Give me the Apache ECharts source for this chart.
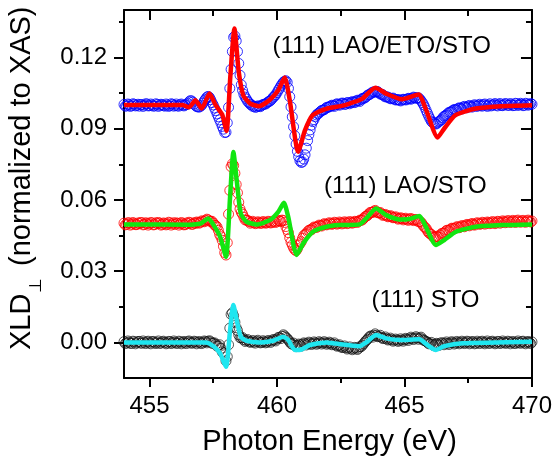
<!DOCTYPE html>
<html><head><meta charset="utf-8">
<script src="https://cdn.jsdelivr.net/npm/echarts@6/dist/echarts.min.js"></script>
<style>html,body{margin:0;padding:0;background:#fff}#c{width:555px;height:462px}</style>
</head><body><div id="c"></div>
<script>
// Photon energies of the measured points (eV): main grid and the interleaved half-step grid
const energies = [
454.0,454.1,454.2,454.3,454.4,454.5,454.6,454.7,454.8,454.9,
455.0,455.1,455.2,455.3,455.4,455.5,455.6,455.7,455.8,455.9,
456.0,456.1,456.2,456.3,456.4,456.5,456.6,456.7,456.8,456.9,
457.0,457.1,457.2,457.3,457.4,457.5,457.6,457.7,457.8,457.9,
458.0,458.1,458.2,458.3,458.4,458.5,458.6,458.7,458.8,458.9,
459.0,459.1,459.2,459.3,459.4,459.5,459.6,459.7,459.8,459.9,
460.0,460.1,460.2,460.3,460.4,460.5,460.6,460.7,460.8,460.9,
461.0,461.1,461.2,461.3,461.4,461.5,461.6,461.7,461.8,461.9,
462.0,462.1,462.2,462.3,462.4,462.5,462.6,462.7,462.8,462.9,
463.0,463.1,463.2,463.3,463.4,463.5,463.6,463.7,463.8,463.9,
464.0,464.1,464.2,464.3,464.4,464.5,464.6,464.7,464.8,464.9,
465.0,465.1,465.2,465.3,465.4,465.5,465.6,465.7,465.8,465.9,
466.0,466.1,466.2,466.3,466.4,466.5,466.6,466.7,466.8,466.9,
467.0,467.1,467.2,467.3,467.4,467.5,467.6,467.7,467.8,467.9,
468.0,468.1,468.2,468.3,468.4,468.5,468.6,468.7,468.8,468.9,
469.0,469.1,469.2,469.3,469.4,469.5,469.6,469.7,469.8,469.9,
470.0];
const energiesB = [
454.05,454.15,454.25,454.35,454.45,454.55,454.65,454.75,454.85,454.95,
455.05,455.15,455.25,455.35,455.45,455.55,455.65,455.75,455.85,455.95,
456.05,456.15,456.25,456.35,456.45,456.55,456.65,456.75,456.85,456.95,
457.05,457.15,457.25,457.35,457.45,457.55,457.65,457.75,457.85,457.95,
458.05,458.15,458.25,458.35,458.45,458.55,458.65,458.75,458.85,458.95,
459.05,459.15,459.25,459.35,459.45,459.55,459.65,459.75,459.85,459.95,
460.05,460.15,460.25,460.35,460.45,460.55,460.65,460.75,460.85,460.95,
461.05,461.15,461.25,461.35,461.45,461.55,461.65,461.75,461.85,461.95,
462.05,462.15,462.25,462.35,462.45,462.55,462.65,462.75,462.85,462.95,
463.05,463.15,463.25,463.35,463.45,463.55,463.65,463.75,463.85,463.95,
464.05,464.15,464.25,464.35,464.45,464.55,464.65,464.75,464.85,464.95,
465.05,465.15,465.25,465.35,465.45,465.55,465.65,465.75,465.85,465.95,
466.05,466.15,466.25,466.35,466.45,466.55,466.65,466.75,466.85,466.95,
467.05,467.15,467.25,467.35,467.45,467.55,467.65,467.75,467.85,467.95,
468.05,468.15,468.25,468.35,468.45,468.55,468.65,468.75,468.85,468.95,
469.05,469.15,469.25,469.35,469.45,469.55,469.65,469.75,469.85,469.95];

// (111) LAO/ETO/STO measured XLD (offset +0.10), blue circles
const xldLaoEtoSto = [
0.1002,0.0996,0.1001,0.0997,0.1003,0.0998,0.0995,0.1001,0.0999,0.1004,
0.0997,0.1000,0.0996,0.1002,0.0998,0.1001,0.0995,0.1000,0.0997,0.1003,
0.0998,0.0996,0.1001,0.0999,0.1000,0.1006,0.1018,0.1012,0.0998,0.0992,
0.0995,0.1008,0.1025,0.1036,0.1022,0.1000,0.0976,0.0950,0.0925,0.0898,
0.0885,0.0990,0.1150,0.1285,0.1270,0.1175,0.1085,0.1045,0.1025,0.1010,
0.1000,0.0995,0.0992,0.0995,0.0998,0.1003,0.1008,0.1015,0.1025,0.1037,
0.1052,0.1070,0.1088,0.1100,0.1095,0.1035,0.0950,0.0870,0.0805,0.0765,
0.0760,0.0790,0.0850,0.0895,0.0930,0.0950,0.0963,0.0972,0.0978,0.0985,
0.0990,0.0995,0.0997,0.1001,0.1002,0.1004,0.1007,0.1004,0.1009,0.1010,
0.1012,0.1016,0.1018,0.1023,0.1028,0.1035,0.1043,0.1050,0.1055,0.1057,
0.1051,0.1045,0.1038,0.1034,0.1030,0.1027,0.1025,0.1022,0.1020,0.1021,
0.1023,0.1024,0.1027,0.1028,0.1031,0.1030,0.1025,0.1010,0.0990,0.0965,
0.0942,0.0926,0.0921,0.0925,0.0934,0.0946,0.0955,0.0964,0.0970,0.0977,
0.0980,0.0985,0.0986,0.0991,0.0990,0.0995,0.0993,0.0997,0.0996,0.0999,
0.0997,0.1001,0.0998,0.1000,0.0996,0.1002,0.0999,0.1003,0.0998,0.1001,
0.1004,0.0999,0.1002,0.0998,0.1005,0.1001,0.1003,0.0999,0.1004,0.1002,
0.1003];
const xldLaoEtoStoB = [
0.0995,0.1004,0.0994,0.1005,0.0996,0.1003,0.1002,0.0994,0.1005,0.0996,
0.1004,0.0995,0.1005,0.0994,0.1003,0.0997,0.1004,0.0994,0.1005,0.0995,
0.1004,0.0995,0.1004,0.0996,0.1001,0.1013,0.1017,0.1004,0.0993,0.0991,
0.0999,0.1018,0.1033,0.1032,0.1010,0.0987,0.0962,0.0937,0.0910,0.0884,
0.0925,0.1070,0.1225,0.1290,0.1225,0.1125,0.1062,0.1033,0.1015,0.1003,
0.0994,0.0990,0.0996,0.0993,0.1002,0.1004,0.1013,0.1019,0.1032,0.1043,
0.1062,0.1080,0.1096,0.1102,0.1070,0.0992,0.0908,0.0835,0.0782,0.0758,
0.0772,0.0818,0.0875,0.0915,0.0938,0.0958,0.0966,0.0977,0.0980,0.0990,
0.0992,0.0999,0.0994,0.1005,0.0999,0.1008,0.1002,0.1010,0.1005,0.1014,
0.1010,0.1020,0.1015,0.1028,0.1030,0.1041,0.1045,0.1054,0.1054,0.1056,
0.1046,0.1043,0.1034,0.1033,0.1026,0.1029,0.1021,0.1023,0.1017,0.1024,
0.1021,0.1028,0.1024,0.1033,0.1028,0.1030,0.1018,0.1001,0.0977,0.0953,
0.0932,0.0925,0.0920,0.0930,0.0938,0.0952,0.0958,0.0969,0.0972,0.0981,
0.0979,0.0988,0.0983,0.0994,0.0988,0.0998,0.0991,0.1001,0.0994,0.1003,
0.0995,0.1004,0.0994,0.1005,0.0999,0.1006,0.0996,0.1006,0.0997,0.1006,
0.0998,0.1006,0.0997,0.1007,0.0998,0.1007,0.0997,0.1007,0.0999,0.1006];

// (111) LAO/STO measured XLD (offset +0.05), red circles
const xldLaoSto = [
0.0502,0.0497,0.0503,0.0498,0.0501,0.0496,0.0500,0.0504,0.0497,0.0501,
0.0499,0.0503,0.0496,0.0500,0.0502,0.0497,0.0501,0.0498,0.0503,0.0499,
0.0497,0.0502,0.0499,0.0501,0.0496,0.0500,0.0503,0.0498,0.0501,0.0505,
0.0506,0.0510,0.0514,0.0516,0.0510,0.0503,0.0492,0.0472,0.0445,0.0405,
0.0368,0.0540,0.0740,0.0745,0.0665,0.0590,0.0548,0.0527,0.0515,0.0509,
0.0506,0.0504,0.0503,0.0505,0.0503,0.0506,0.0504,0.0507,0.0505,0.0508,
0.0510,0.0512,0.0515,0.0505,0.0475,0.0440,0.0410,0.0390,0.0395,0.0415,
0.0438,0.0455,0.0466,0.0474,0.0480,0.0485,0.0489,0.0492,0.0495,0.0497,
0.0499,0.0501,0.0500,0.0503,0.0501,0.0504,0.0502,0.0505,0.0503,0.0506,
0.0505,0.0508,0.0510,0.0514,0.0522,0.0532,0.0541,0.0548,0.0552,0.0550,
0.0546,0.0541,0.0537,0.0534,0.0531,0.0529,0.0526,0.0524,0.0522,0.0521,
0.0520,0.0518,0.0519,0.0517,0.0516,0.0514,0.0509,0.0498,0.0485,0.0470,
0.0458,0.0448,0.0443,0.0445,0.0452,0.0460,0.0466,0.0472,0.0476,0.0480,
0.0482,0.0486,0.0487,0.0490,0.0492,0.0494,0.0497,0.0496,0.0499,0.0501,
0.0500,0.0503,0.0502,0.0505,0.0503,0.0506,0.0504,0.0508,0.0506,0.0509,
0.0507,0.0511,0.0508,0.0510,0.0512,0.0509,0.0511,0.0508,0.0512,0.0510,
0.0511];
const xldLaoStoB = [
0.0495,0.0504,0.0494,0.0505,0.0496,0.0503,0.0505,0.0495,0.0504,0.0494,
0.0505,0.0495,0.0504,0.0505,0.0494,0.0503,0.0495,0.0506,0.0494,0.0504,
0.0503,0.0494,0.0505,0.0495,0.0503,0.0506,0.0497,0.0504,0.0507,0.0502,
0.0512,0.0508,0.0519,0.0511,0.0510,0.0494,0.0486,0.0455,0.0430,0.0378,
0.0420,0.0640,0.0752,0.0712,0.0630,0.0562,0.0540,0.0516,0.0514,0.0502,
0.0510,0.0500,0.0508,0.0501,0.0509,0.0502,0.0510,0.0503,0.0511,0.0505,
0.0514,0.0509,0.0513,0.0488,0.0462,0.0422,0.0398,0.0386,0.0408,0.0424,
0.0450,0.0458,0.0472,0.0474,0.0486,0.0484,0.0494,0.0490,0.0500,0.0495,
0.0504,0.0497,0.0506,0.0498,0.0507,0.0499,0.0508,0.0500,0.0509,0.0502,
0.0510,0.0505,0.0515,0.0516,0.0529,0.0534,0.0547,0.0547,0.0556,0.0546,
0.0547,0.0535,0.0539,0.0529,0.0534,0.0525,0.0529,0.0519,0.0525,0.0516,
0.0523,0.0514,0.0522,0.0513,0.0518,0.0508,0.0506,0.0489,0.0480,0.0462,
0.0455,0.0443,0.0447,0.0444,0.0458,0.0460,0.0472,0.0470,0.0481,0.0478,
0.0487,0.0483,0.0492,0.0487,0.0497,0.0491,0.0501,0.0494,0.0504,0.0497,
0.0506,0.0498,0.0507,0.0500,0.0509,0.0500,0.0510,0.0502,0.0512,0.0504,
0.0513,0.0505,0.0514,0.0505,0.0515,0.0506,0.0514,0.0506,0.0515,0.0507];

// (111) STO measured XLD, black circles
const xldSto = [
0.0003,-0.0002,0.0001,-0.0004,0.0002,-0.0001,0.0004,-0.0003,0.0000,0.0002,
-0.0002,0.0003,-0.0001,0.0001,-0.0004,0.0002,0.0000,-0.0002,0.0003,-0.0001,
0.0001,-0.0003,0.0002,0.0000,-0.0002,0.0003,0.0001,-0.0001,0.0002,0.0000,
-0.0002,0.0001,0.0003,0.0004,0.0002,-0.0003,-0.0008,-0.0015,-0.0025,-0.0045,
-0.0078,-0.0010,0.0118,0.0112,0.0062,0.0032,0.0018,0.0011,0.0008,0.0005,
0.0003,0.0001,0.0004,0.0002,0.0000,0.0003,0.0001,0.0005,0.0006,0.0010,
0.0014,0.0020,0.0026,0.0027,0.0016,0.0002,-0.0008,-0.0012,-0.0013,-0.0010,
-0.0008,-0.0005,-0.0006,-0.0003,-0.0005,-0.0002,-0.0004,-0.0001,-0.0003,-0.0002,
-0.0004,-0.0003,-0.0007,-0.0010,-0.0014,-0.0017,-0.0020,-0.0022,-0.0024,-0.0025,
-0.0026,-0.0024,-0.0025,-0.0018,-0.0005,0.0008,0.0020,0.0027,0.0030,0.0029,
0.0025,0.0021,0.0018,0.0015,0.0013,0.0011,0.0009,0.0010,0.0008,0.0010,
0.0011,0.0013,0.0015,0.0017,0.0018,0.0019,0.0018,0.0014,0.0007,0.0000,
-0.0005,-0.0008,-0.0009,-0.0007,-0.0006,-0.0004,-0.0003,-0.0004,-0.0002,-0.0001,
-0.0003,0.0000,-0.0002,0.0001,-0.0001,0.0002,-0.0002,0.0001,-0.0003,0.0000,
0.0002,-0.0001,0.0001,-0.0003,0.0002,0.0000,-0.0002,0.0003,-0.0001,0.0001,
-0.0002,0.0002,0.0000,-0.0003,0.0001,-0.0001,0.0003,-0.0002,0.0001,0.0000,
0.0002];
const xldStoB = [
-0.0005,0.0006,-0.0004,0.0005,-0.0006,0.0004,-0.0003,0.0006,-0.0005,0.0005,
-0.0006,0.0004,-0.0005,0.0006,-0.0003,0.0005,-0.0006,0.0004,-0.0005,0.0006,
-0.0004,0.0005,-0.0006,0.0004,-0.0005,0.0006,-0.0004,0.0005,-0.0006,0.0004,
-0.0005,0.0006,-0.0002,0.0007,-0.0004,-0.0002,-0.0016,-0.0010,-0.0040,-0.0052,
-0.0060,0.0060,0.0125,0.0085,0.0050,0.0020,0.0020,0.0004,0.0012,0.0000,
0.0008,-0.0003,0.0009,-0.0002,0.0007,-0.0002,0.0008,0.0000,0.0012,0.0006,
0.0021,0.0016,0.0032,0.0021,0.0010,-0.0005,-0.0003,-0.0018,-0.0007,-0.0016,
-0.0002,-0.0011,0.0001,-0.0009,0.0002,-0.0008,0.0003,-0.0007,0.0003,-0.0008,
0.0001,-0.0010,-0.0002,-0.0016,-0.0010,-0.0022,-0.0015,-0.0028,-0.0019,-0.0031,
-0.0021,-0.0030,-0.0018,-0.0012,0.0002,0.0013,0.0026,0.0022,0.0036,0.0024,
0.0030,0.0016,0.0023,0.0010,0.0018,0.0005,0.0014,0.0004,0.0015,0.0005,
0.0017,0.0008,0.0022,0.0012,0.0024,0.0013,0.0022,0.0009,0.0004,-0.0006,
0.0000,-0.0014,-0.0004,-0.0013,-0.0001,-0.0010,0.0002,-0.0009,0.0003,-0.0007,
0.0004,-0.0006,0.0005,-0.0005,0.0005,-0.0006,0.0004,-0.0006,0.0005,-0.0005,
0.0005,-0.0006,0.0006,-0.0004,0.0005,-0.0006,0.0004,-0.0005,0.0006,-0.0004,
0.0005,-0.0006,0.0004,-0.0005,0.0006,-0.0004,0.0005,-0.0006,0.0004,-0.0005];

// Fit curves (calculated spectra)
const fitLaoEtoStoX = [454.0,456.3,456.55,456.8,457.05,457.35,457.6,457.85,458.02,458.17,458.33,458.5,458.68,458.95,459.3,459.7,460.05,460.3,460.5,460.83,461.1,461.4,461.95,462.5,462.85,463.35,463.86,464.28,464.9,465.55,465.85,466.3,466.56,467.0,467.8,468.8,470.0];
const fitLaoEtoStoY = [0.1000,0.1000,0.0990,0.1020,0.0985,0.1048,0.0998,0.0960,0.0890,0.1120,0.1322,0.1140,0.1040,0.1006,0.0995,0.1020,0.1062,0.1116,0.1020,0.0803,0.0894,0.0957,0.0985,0.0995,0.1006,0.1027,0.1073,0.1048,0.1024,0.1044,0.0978,0.0863,0.0901,0.0957,0.0985,0.0995,0.0999];

const fitLaoStoX = [454.0,456.6,456.99,457.31,457.51,457.77,458.0,458.16,458.29,458.42,458.58,458.81,459.2,459.72,460.05,460.27,460.44,460.77,461.03,461.41,461.94,462.46,463.24,463.5,463.89,464.28,464.8,465.19,465.58,465.84,466.23,466.56,467.02,467.8,468.84,470.0];
const fitLaoStoY = [0.0497,0.0496,0.0500,0.0522,0.0495,0.0445,0.0360,0.0613,0.0802,0.0683,0.0543,0.0508,0.0497,0.0515,0.0550,0.0588,0.0529,0.0368,0.0417,0.0466,0.0487,0.0494,0.0497,0.0522,0.0564,0.0536,0.0518,0.0520,0.0532,0.0487,0.0410,0.0431,0.0466,0.0487,0.0494,0.0497];

const fitStoX = [454.0,457.2,457.51,457.77,458.0,458.16,458.29,458.42,458.58,458.81,459.33,459.85,460.24,460.44,460.7,460.96,461.29,461.94,462.3,463.24,463.5,463.89,464.28,464.8,465.58,465.9,466.23,466.56,467.27,470.0];
const fitStoY = [0.0000,0.0000,-0.0016,-0.0046,-0.0103,0.0052,0.0157,0.0094,0.0024,0.0007,0.0000,0.0007,0.0024,0.0010,-0.0032,-0.0030,-0.0011,0.0000,-0.0005,-0.0016,0.0000,0.0031,0.0017,0.0010,0.0013,-0.0011,-0.0032,-0.0016,-0.0004,0.0003];

// Axis ticks
const xMajorTicks = [455, 460, 465, 470];
const xMinorTicks = [457.5, 462.5, 467.5];
const yMajorTicks = [0, 0.03, 0.06, 0.09, 0.12];
const yMinorTicks = [0.015, 0.045, 0.075, 0.105, 0.135];

const FONT = "'Liberation Sans', Arial, Helvetica, sans-serif";
const zip = (xs, ys) => xs.map((x, i) => [x, ys[i]]);

function xAx(pos, ticks, len, inside, showLine, labels) {
  return {
    type: 'value', min: 454, max: 470, position: pos, gridIndex: 0,
    axisLine: { show: showLine, onZero: false, lineStyle: { color: '#000', width: 2 } },
    axisTick: { show: true, inside: inside, length: len, customValues: ticks, lineStyle: { color: '#000', width: 2 } },
    axisLabel: labels ? { show: true, customValues: ticks, fontSize: 24, color: '#000', fontFamily: FONT, margin: 16 } : { show: false },
    splitLine: { show: false }
  };
}
function yAx(pos, ticks, len, inside, showLine, labels) {
  return {
    type: 'value', min: -0.015, max: 0.14, position: pos, gridIndex: 0,
    axisLine: { show: showLine, onZero: false, lineStyle: { color: '#000', width: 2 } },
    axisTick: { show: true, inside: inside, length: len, customValues: ticks, lineStyle: { color: '#000', width: 2 } },
    axisLabel: labels ? { show: true, customValues: ticks, fontSize: 24, color: '#000', fontFamily: FONT, margin: 17,
      formatter: v => Number(v).toFixed(2) } : { show: false },
    splitLine: { show: false }
  };
}

function circles(valsA, valsB, color, bw) {
  return {
    type: 'scatter', xAxisIndex: 0, yAxisIndex: 0,
    data: zip(energies, valsA).concat(zip(energiesB, valsB)), symbol: 'circle', symbolSize: 10,
    itemStyle: { color: 'rgba(0,0,0,0)', borderColor: color, borderWidth: bw },
    silent: true
  };
}
function fit(xs, ys, color) {
  return {
    type: 'line', xAxisIndex: 0, yAxisIndex: 0,
    data: zip(xs, ys), showSymbol: false, smooth: 0.2,
    lineStyle: { color: color, width: 4.5 }, silent: true
  };
}

const chart = echarts.init(document.getElementById('c'), null, { renderer: 'canvas' });
chart.setOption({
  animation: false,
  backgroundColor: '#fff',
  grid: { left: 124, right: 20, top: 10, bottom: 84, containLabel: false },
  xAxis: [
    xAx('bottom', xMajorTicks, 9, false, true, true),
    xAx('bottom', xMinorTicks, 5, false, false, false),
    xAx('top', xMajorTicks, 10, true, true, false),
    xAx('top', xMinorTicks, 6, true, false, false)
  ],
  yAxis: [
    yAx('left', yMajorTicks, 10, false, true, true),
    yAx('left', yMinorTicks, 5, false, false, false),
    yAx('right', yMajorTicks, 11, true, true, false),
    yAx('right', yMinorTicks, 6, true, false, false)
  ],
  series: [
    circles(xldLaoEtoSto, xldLaoEtoStoB, '#0000ff', 1),
    fit(fitLaoEtoStoX, fitLaoEtoStoY, '#ff0000'),
    circles(xldLaoSto, xldLaoStoB, '#ff0000', 1),
    fit(fitLaoStoX, fitLaoStoY, '#11e611'),
    circles(xldSto, xldStoB, '#111111', 0.9),
    fit(fitStoX, fitStoY, '#1ee6f0')
  ],
  graphic: [
    { type: 'text', x: 21.5, y: 350, rotation: Math.PI / 2,
      style: { text: 'XLD', fontSize: 29, fontFamily: FONT, fill: '#000', align: 'left', verticalAlign: 'middle', textAlign: 'left', textVerticalAlign: 'middle' } },
    { type: 'text', x: 36.5, y: 285, rotation: Math.PI / 2,
      style: { text: '⊥', fontSize: 17, fontFamily: FONT, fill: '#000', align: 'center', verticalAlign: 'middle', textAlign: 'center', textVerticalAlign: 'middle' } },
    { type: 'text', x: 21.5, y: 266, rotation: Math.PI / 2,
      style: { text: '(normalized to XAS)', fontSize: 29, fontFamily: FONT, fill: '#000', align: 'left', verticalAlign: 'middle', textAlign: 'left', textVerticalAlign: 'middle' } },
    { type: 'text', x: 329.5, y: 442,
      style: { text: 'Photon Energy (eV)', fontSize: 29, fontFamily: FONT, fill: '#000', align: 'center', verticalAlign: 'middle', textAlign: 'center', textVerticalAlign: 'middle' } },
    { type: 'text', x: 272.5, y: 46,
      style: { text: '(111) LAO/ETO/STO', fontSize: 24, fontFamily: FONT, fill: '#000', align: 'left', verticalAlign: 'middle', textAlign: 'left', textVerticalAlign: 'middle' } },
    { type: 'text', x: 324, y: 186,
      style: { text: '(111) LAO/STO', fontSize: 24, fontFamily: FONT, fill: '#000', align: 'left', verticalAlign: 'middle', textAlign: 'left', textVerticalAlign: 'middle' } },
    { type: 'text', x: 371.5, y: 300,
      style: { text: '(111) STO', fontSize: 24, fontFamily: FONT, fill: '#000', align: 'left', verticalAlign: 'middle', textAlign: 'left', textVerticalAlign: 'middle' } }
  ]
});
</script>
</body></html>
